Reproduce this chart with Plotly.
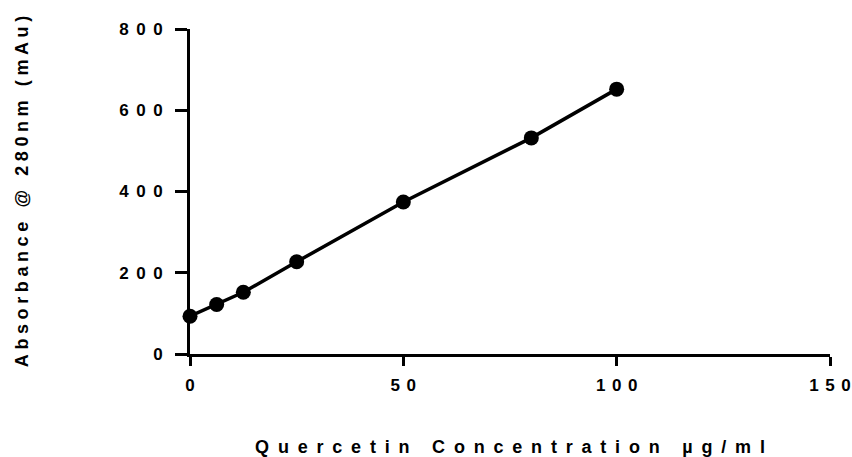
import plotly.graph_objects as go

# Data
concentration = [0, 6.25, 12.5, 25, 50, 80, 100]
absorbance = [93, 122, 152, 227, 374, 532, 652]

x_tickvals = [0, 50, 100, 150]
x_ticktext = ["0", "50", "100", "150"]
y_tickvals = [0, 200, 400, 600, 800]
y_ticktext = ["0", "200", "400", "600", "800"]

x_title = "Quercetin Concentration µg/ml"
y_title = "Absorbance @ 280nm (mAu)"

FONT = "Liberation Sans, Arial, sans-serif"


def spaced(t, px, size):
    # letter spacing on every character except the last (no trailing gap)
    head, tail = t[:-1], t[-1:]
    inner = (f'<span style="letter-spacing:{px}px">{head}</span>' if head else "")
    return (f'<span style="font-weight:bold;font-size:{size}px">'
            f'{inner}{tail}</span>')


fig = go.Figure()
fig.add_trace(go.Scatter(
    x=concentration, y=absorbance,
    mode="lines+markers",
    line=dict(color="black", width=3.5),
    marker=dict(color="black", size=15),
    showlegend=False,
    cliponaxis=False,
))

axis_common = dict(
    showgrid=False, zeroline=False,
    showline=True, linecolor="black", linewidth=3,
    ticks="outside", tickcolor="black", tickwidth=3,
    tickfont=dict(family=FONT, size=17, color="black", weight="bold"),
    tickmode="array",
    automargin=False,
)

fig.update_layout(
    width=852, height=457,
    margin=dict(l=190, r=22, t=29, b=103),
    paper_bgcolor="white", plot_bgcolor="white",
    xaxis=dict(
        range=[0, 150],
        tickvals=x_tickvals,
        ticktext=[spaced(t, 6.5, 17) for t in x_ticktext],
        ticklen=9,
        ticklabelstandoff=5,
        title=dict(text=spaced(x_title, 8.8, 18),
                   font=dict(family=FONT, size=18, color="black", weight="bold"),
                   standoff=46),
        **axis_common,
    ),
    yaxis=dict(
        range=[0, 800],
        tickvals=y_tickvals,
        ticktext=[spaced(t, 7.5, 17) for t in y_ticktext],
        ticklen=12,
        ticklabelstandoff=9,
        title=dict(text=spaced(y_title, 4.6, 18),
                   font=dict(family=FONT, size=18, color="black", weight="bold"),
                   standoff=86),
        **axis_common,
    ),
)

fig.write_html("out.html",
               config={"displayModeBar": False},
               post_script="document.body.style.margin='0';document.body.style.padding='0';")
